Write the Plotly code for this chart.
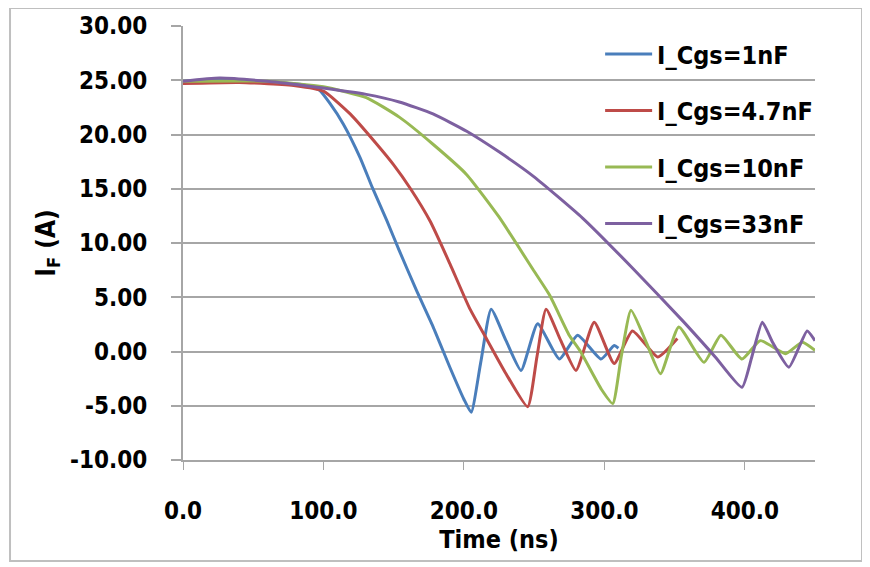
import plotly.graph_objects as go

# ---- data ----
t_1nF = [0, 30, 60, 85, 97, 105, 114, 126, 135, 145, 154, 166, 178, 190, 200, 205.2, 212, 219.4, 230, 240.7, 252.5, 268, 281, 297.6, 307, 310]
i_1nF = [24.9, 25.0, 24.8, 24.6, 24.1, 22.8, 21.0, 17.9, 15.05, 12.1, 9.3, 5.7, 2.3, -1.45, -4.4, -5.6, -1.0, 3.9, 1.0, -1.75, 2.55, -0.7, 1.5, -0.7, 0.55, 0.3]

t_4n7F = [0, 40, 80, 100, 119, 138, 150, 162, 176, 190, 204, 216, 230, 245.4, 252, 258.5, 269, 279.8, 292.8, 307, 320, 338, 352]
i_4n7F = [24.7, 24.8, 24.5, 24.0, 21.9, 19.1, 17.2, 15.0, 12.0, 8.1, 4.0, 1.2, -2.05, -5.1, -0.5, 3.9, 1.0, -1.75, 2.7, -1.1, 1.9, -0.5, 1.2]

t_10nF = [0, 60, 100, 130.5, 154, 178, 202, 225, 249, 261, 275, 283, 298, 306, 312, 319, 330, 340, 353, 371, 383, 398, 411, 429, 441, 450]
i_10nF = [24.9, 24.9, 24.4, 23.4, 21.6, 19.1, 16.3, 12.4, 7.6, 5.2, 1.5, 0.0, -3.5, -4.8, -0.5, 3.8, 0.8, -2.05, 2.25, -1.0, 1.5, -0.7, 1.0, -0.2, 0.85, 0.1]

t_33nF = [0, 26, 60, 92.6, 130.5, 154, 178, 202, 225, 250, 284.5, 320, 356, 379, 398, 405, 412.5, 420, 431.4, 444.4, 450]
i_33nF = [24.9, 25.2, 24.9, 24.4, 23.7, 23.0, 21.9, 20.3, 18.4, 16.1, 12.3, 7.7, 2.8, -0.5, -3.3, -0.5, 2.7, 0.8, -1.45, 1.9, 1.0]

series_names = ["I_Cgs=1nF", "I_Cgs=4.7nF", "I_Cgs=10nF", "I_Cgs=33nF"]
series_t = [t_1nF, t_4n7F, t_10nF, t_33nF]
series_i = [i_1nF, i_4n7F, i_10nF, i_33nF]
series_colors = ["#4A7EBB", "#BE4B48", "#98B954", "#7D60A0"]

x_ticks = [0, 100, 200, 300, 400]
x_tick_labels = ["0.0", "100.0", "200.0", "300.0", "400.0"]
y_ticks = [-10, -5, 0, 5, 10, 15, 20, 25, 30]
y_tick_labels = ["-10.00", "-5.00", "0.00", "5.00", "10.00", "15.00", "20.00", "25.00", "30.00"]

FONT = "DejaVu Sans Condensed, Liberation Sans Narrow, Arial Narrow, DejaVu Sans, sans-serif"

fig = go.Figure()
for k, (name, t, i, c) in enumerate(zip(series_names, series_t, series_i, series_colors)):
    fig.add_trace(go.Scatter(
        x=t, y=i, mode="lines", name=name, legendgroup=f"g{k}",
        line=dict(color=c, width=3, shape="spline", smoothing=0.5),
    ))

# page body has an 8px margin: plot area aimed at screen x 183..815, y 26..460
fig.update_layout(
    width=870, height=567,
    margin=dict(l=175, r=63, t=18, b=115),
    paper_bgcolor="white", plot_bgcolor="white",
    font=dict(family=FONT, color="black", size=22, weight="bold"),
    showlegend=True,
    legend=dict(
        x=0.66, y=0.988, xanchor="left", yanchor="top",
        bgcolor="rgba(0,0,0,0)", borderwidth=0,
        font=dict(family=FONT, size=25, color="black", weight="bold"),
        traceorder="grouped", tracegroupgap=21, itemwidth=47,
    ),
    xaxis=dict(
        range=[0, 450], tickmode="array", tickvals=x_ticks, ticktext=x_tick_labels,
        showgrid=False, zeroline=False, automargin=False,
        showline=True, linecolor="#A6A6A6", linewidth=2,
        ticks="outside", ticklen=8, tickcolor="#A6A6A6", tickwidth=1,
        ticklabelstandoff=20,
        tickfont=dict(family=FONT, size=24, color="black", weight="bold"),
        title=dict(text="Time (ns)", standoff=2,
                   font=dict(family=FONT, size=25, color="black", weight="bold")),
    ),
    yaxis=dict(
        range=[-10, 30], tickmode="array", tickvals=y_ticks, ticktext=y_tick_labels,
        showgrid=True, gridcolor="#A6A6A6", gridwidth=2, zeroline=False, automargin=False,
        showline=True, linecolor="#A6A6A6", linewidth=2,
        ticks="outside", ticklen=10, tickcolor="#A6A6A6", tickwidth=2,
        ticklabelstandoff=19,
        tickfont=dict(family=FONT, size=24, color="black", weight="bold"),
        title=dict(text="I<sub>F</sub> (A)", standoff=7,
                   font=dict(family=FONT, size=26, color="black", weight="bold")),
    ),
    shapes=[dict(type="rect", xref="paper", yref="paper",
                 x0=-0.2737, x1=1.0744, y0=-0.2327, y1=1.0415,
                 line=dict(color="#BFBFBF", width=2), layer="below")],
)

fig.write_html("out.html")
